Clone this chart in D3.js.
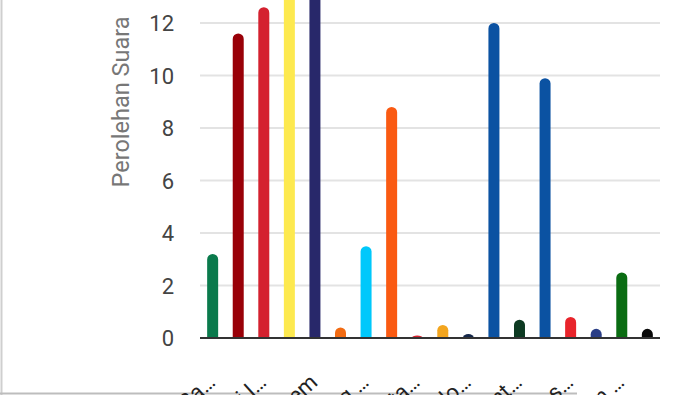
<!DOCTYPE html>
<html>
<head>
<meta charset="utf-8">
<script src="https://cdn.jsdelivr.net/npm/d3@7"></script>
<style>
  body { margin: 0; background: #fff; }
  text { font-family: Roboto, "Noto Sans", sans-serif; }
</style>
</head>
<body>
<svg></svg>
<script>
let width = 700
let height = 395

let parties = [
  'PKB', 'Gerindra', 'PDIP', 'Golkar', 'NasDem', 'Buruh', 'Gelora', 'PKS', 'PKN',
  'Hanura', 'Garuda', 'PAN', 'PBB', 'Demokrat', 'PSI', 'Perindo', 'PPP', 'Ummat'
]
let votes = [3.2, 11.6, 12.6, 13.6, 14.2, 0.4, 3.5, 8.8, 0.1, 0.5, 0.15, 12.0, 0.7, 9.9, 0.8, 0.35, 2.5, 0.35]
let colors = [
  '#0a7a4c', '#990008', '#d4212f', '#fde94f', '#28286a', '#f26b12', '#00c8fb', '#fa5a12', '#d6212f',
  '#f3a51e', '#15284a', '#0b52a2', '#0d3a22', '#0b52a2', '#e8242b', '#2a3e86', '#0a6c12', '#0a0a0a'
]
// labels as shown (alternate ones hidden)
let tickLabels = [
  'Partai Kebangkitan Ba…', '', 'Partai Demokrasi I…', '', 'Partai NasDem', '',
  'Partai Gelombang …', '', 'Partai Kebangkitan Nusanta…', '', 'Partai Garda Republik Indo…', '',
  'Partai Bulan Bint…', '', 'Partai Solidaritas Indones…', '', 'Partai Persatuan …', ''
]
let yTicks = [0, 2, 4, 6, 8, 10, 12]

let svg = d3.select('svg')
    .attr('width', width)
    .attr('height', height)

let x = d3.scaleBand()
    .domain(parties)
    .range([200, 660])
    .paddingInner(0.57)
    .paddingOuter(0.28)

let y = d3.scaleLinear()
    .domain([0, 12])
    .range([338, 23])

// card border
svg.append('line')
    .attr('x1', 1.5).attr('x2', 1.5)
    .attr('y1', 0).attr('y2', height)
    .attr('stroke', '#cfcfcf')
    .attr('stroke-width', 2)
svg.append('line')
    .attr('x1', 0).attr('x2', 577)
    .attr('y1', 393.5).attr('y2', 393.5)
    .attr('stroke', '#bdbdbd')
    .attr('stroke-width', 2)

// gridlines
svg.append('g')
  .selectAll('line')
  .data(yTicks.filter(d => d > 0))
  .enter()
  .append('line')
    .attr('x1', 200)
    .attr('x2', 660)
    .attr('y1', d => y(d))
    .attr('y2', d => y(d))
    .attr('stroke', '#e3e3e3')
    .attr('stroke-width', 2)

// y tick labels
svg.append('g')
  .selectAll('text')
  .data(yTicks)
  .enter()
  .append('text')
    .attr('x', 174)
    .attr('y', d => y(d) + 8)
    .attr('text-anchor', 'end')
    .attr('font-size', 22)
    .attr('fill', '#444')
    .text(d => d)

// y axis title
svg.append('text')
    .attr('transform', 'translate(129, 102) rotate(-90)')
    .attr('text-anchor', 'middle')
    .attr('font-size', 23.5)
    .attr('fill', '#777')
    .text('Perolehan Suara')

// bars with rounded tops
let bw = x.bandwidth()
let r = bw / 2

svg.append('g')
  .selectAll('.bar')
  .data(votes)
  .enter()
  .append('path')
    .classed('bar', true)
    .attr('fill', (d, i) => colors[i])
    .attr('d', (d, i) => {
      let x0 = x(parties[i])
      let y0 = y(0)
      let yt = y(d)
      let h = y0 - yt
      let rr = Math.min(r, h)
      return `M${x0},${y0} L${x0},${yt + rr} A${r},${rr} 0 0 1 ${x0 + bw},${yt + rr} L${x0 + bw},${y0} Z`
    })

// baseline
svg.append('line')
    .attr('x1', 200)
    .attr('x2', 660)
    .attr('y1', y(0))
    .attr('y2', y(0))
    .attr('stroke', '#333')
    .attr('stroke-width', 2)

// x labels
svg.append('g')
  .selectAll('text')
  .data(tickLabels)
  .enter()
  .append('text')
    .attr('transform', (d, i) => `translate(${x(parties[i]) + bw / 2 + 4}, 384) rotate(-42)`)
    .attr('text-anchor', 'end')
    .attr('font-size', 22)
    .attr('fill', '#222')
    .text(d => d)
</script>
</body>
</html>
